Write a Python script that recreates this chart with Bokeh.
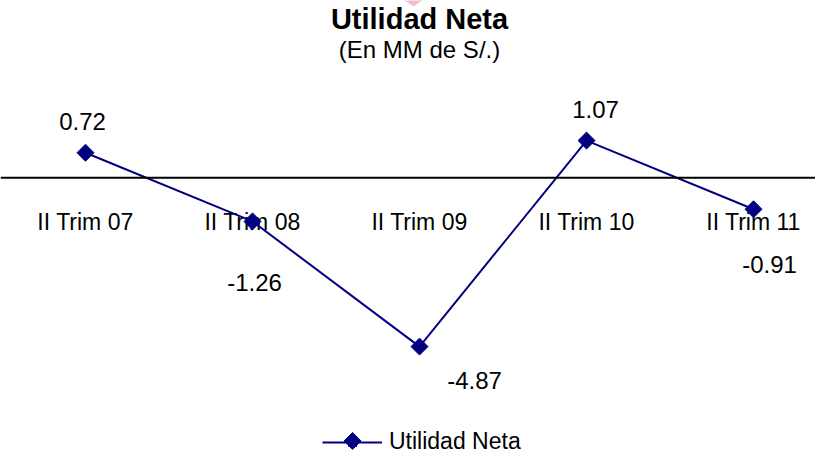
import numpy as np
from bokeh.plotting import figure
from bokeh.models import ColumnDataSource, Range1d, Span, Label, Legend, LegendItem
from bokeh.core.properties import value
from bokeh.embed import file_html
from bokeh.resources import INLINE

# ---- data ----
categories = ["II Trim 07", "II Trim 08", "II Trim 09", "II Trim 10", "II Trim 11"]
utilidad = [0.72, -1.26, -4.87, 1.07, -0.91]
value_labels = ["0.72", "-1.26", "-4.87", "1.07", "-0.91"]

# label placement (pixel offsets, as dragged in the original)
lab_dx = [-3, 2, 55, 9, 16]
lab_dy = [-31, 61, 34, -31, 55]

FONT = "Liberation Sans"
NAVY = "#000080"

xs = list(range(len(categories)))

p = figure(width=815, height=455, output_backend="svg", toolbar_location=None,
           x_range=Range1d(-0.509, 4.371), y_range=Range1d(-8.01, 5.11),
           x_axis_location=None, y_axis_location=None, min_border=0)
p.grid.visible = False
p.outline_line_color = None
p.background_fill_color = "white"
p.border_fill_color = "white"

# decorative pink triangle at top (partially cut)
p.patch([1.838, 2.090, 1.964], [5.34, 5.34, 4.94], fill_color="#F6BDD1", line_color=None)

# zero axis line
p.add_layout(Span(location=0, dimension="width", line_color="black", line_width=2))

src = ColumnDataSource(dict(x=xs, y=utilidad, cat=categories, lab=value_labels,
                            dx=lab_dx, dy=lab_dy, zero=[0] * len(xs)))

# category labels below the zero line
p.text(x="x", y="zero", text="cat", source=src, y_offset=44,
       text_align="center", text_baseline="middle",
       text_font=value(FONT), text_font_size="23px", text_color="black")

line_r = p.line(x="x", y="y", source=src, line_color=NAVY, line_width=2)
pts_r = p.scatter(x="x", y="y", source=src, marker="square", angle=np.pi / 4,
                  size=12, fill_color=NAVY, line_color=NAVY)

# data labels
p.text(x="x", y="y", text="lab", source=src, x_offset="dx", y_offset="dy",
       text_align="center", text_baseline="middle",
       text_font=value(FONT), text_font_size="24px", text_color="black")

# titles
p.add_layout(Label(x=2.0, y=4.59, text="Utilidad Neta", text_align="center",
                   text_baseline="middle", text_font=FONT, text_font_size="29px",
                   text_font_style="bold", text_color="black"))
p.add_layout(Label(x=2.0, y=3.70, text="(En MM de S/.)", text_align="center",
                   text_baseline="middle", text_font=FONT, text_font_size="24px",
                   text_color="black"))

legend = Legend(items=[LegendItem(label="Utilidad Neta", renderers=[line_r, pts_r])],
                location=(322, 0), orientation="horizontal",
                glyph_width=60, glyph_height=20, label_standoff=7,
                label_text_font=FONT, label_text_font_size="23px",
                label_text_color="black",
                padding=0, margin=0, border_line_color=None,
                background_fill_alpha=0)
p.add_layout(legend)

# diamond symbol drawn over the legend glyph (legend markers are not rotated)
p.scatter(x=[1.599], y=[-7.59], marker="square", angle=np.pi / 4, size=12,
          fill_color=NAVY, line_color=NAVY)

open("out.html", "w").write(file_html(p, INLINE))
